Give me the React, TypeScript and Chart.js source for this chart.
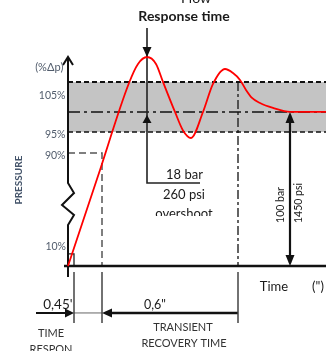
import React, { useEffect, useRef } from 'react';
import { Chart, registerables } from 'chart.js';

Chart.register(...registerables);

// ---- Schematic data (time in s, pressure in % of Δp, schematic spacing) ----
const T_RANGE = [-0.68, 2.58];
const P_RANGE = [-55.2, 172.7];

const LEVEL_105 = 119.5;
const LEVEL_100 = 100;
const LEVEL_95 = 87;
const LEVEL_90 = 73.4;
const LEVEL_10 = 7.8;

const T_10 = 0.06;
const T_90 = 0.34;
const T_PEAK = 0.79;
const T_RECOVERY = 1.7;
const T_SETTLE = 2.22;
const P_PEAK = 135.7;

// Pressure response curve
const curveT = [0, 0.3, 0.61, 0.7, 0.79, 0.88, 0.95, 1.07, 1.15, 1.23, 1.35, 1.45, 1.57, 1.65, 1.72, 1.78, 1.84, 1.92, 2.05, 2.22, 2.58];
const curveP = [0, 58.4, 118.8, 131.2, 135.7, 131.2, 119.5, 100, 88, 83.1, 100, 118.2, 127.9, 125.3, 120.8, 114.3, 109.1, 105.8, 102.6, 100, 100];

// Texts
const TITLE_TOP = 'Flow';
const TITLE = 'Response time';
const Y_UNIT = '(%Δp)';
const LEVEL_LABELS = ['105%', '95%', '90%', '10%'];
const Y_TITLE = 'PRESSURE';
const OVERSHOOT = ['18 bar', '260 psi', 'overshoot'];
const RANGE_LABELS = ['100 bar', '1450 psi'];
const X_TITLE = ['Time', '(")'];
const DURATIONS = ["0,45'", '0,6"'];
const PHASES = ['TIME', 'RESPON', 'TRANSIENT', 'RECOVERY TIME'];

const pts = (xs: number[], ys: number[]) => xs.map((x, i) => ({ x, y: ys[i] }));

export default function App() {
  const ref = useRef<HTMLCanvasElement>(null);

  useEffect(() => {
    document.body.style.margin = '0';
    const line = (data: { x: number; y: number }[], color: string, width: number, dash: number[] = [], order = 5) => ({
      data,
      borderColor: color,
      borderWidth: width,
      borderDash: dash,
      pointRadius: 0,
      fill: false,
      tension: 0,
      order,
      borderCapStyle: 'butt' as const,
    });

    const P_AX_LOW = -3.9;
    const P_BELOW = -37;
    const P_ARROWS = -30.5;

    const datasets: any[] = [
      // gray tolerance band
      {
        data: pts([0, T_RANGE[1]], [LEVEL_105, LEVEL_105]),
        borderWidth: 0,
        pointRadius: 0,
        backgroundColor: '#c4c4c4',
        fill: { value: LEVEL_95 },
        order: 20,
      },
      line(pts([0, T_RANGE[1]], [LEVEL_105, LEVEL_105]), '#111', 2, [5, 3], 10),
      line(pts([0, T_RANGE[1]], [LEVEL_95, LEVEL_95]), '#111', 1.6, [5, 3], 10),
      line(pts([0, T_RANGE[1]], [LEVEL_100, LEVEL_100]), '#111', 1.4, [12, 4, 3, 4], 10),
      line(pts([0, T_90, T_90], [LEVEL_90, LEVEL_90, 0]), '#555', 1.5, [7, 4], 10),
      line(pts([0, T_10, T_10], [LEVEL_10, LEVEL_10, 0]), '#222', 1.3, [], 10),
      line(pts([T_RECOVERY, T_RECOVERY], [LEVEL_105, 0]), '#222', 1.4, [9, 3, 3, 3], 10),
      // below-axis markers
      line(pts([T_10, T_10], [P_AX_LOW, P_BELOW]), '#444', 1.5),
      line(pts([T_90, T_90], [P_AX_LOW, P_BELOW]), '#444', 1.5),
      line(pts([T_RECOVERY, T_RECOVERY], [P_AX_LOW, P_BELOW]), '#444', 1.5),
      line(pts([-0.32, T_10 - 0.04], [P_ARROWS, P_ARROWS]), '#111', 2),
      line(pts([T_10, T_90], [P_ARROWS, P_ARROWS]), '#666', 1),
      line(pts([T_90 + 0.05, T_RECOVERY], [P_ARROWS, P_ARROWS]), '#111', 2.5),
      // axes
      line(pts([-0.04, T_RANGE[1]], [0, 0]), '#111', 2.5, [], 4),
      line(
        pts([0, 0, 0.06, -0.06, 0.06, 0, 0], [P_PEAK, 53.9, 47.4, 39.6, 33.1, 26.6, -7.1]),
        '#111', 2, [], 4
      ),
      line(pts([-0.05, 0, 0.05], [130.5, P_PEAK, 130.5]), '#111', 2, [], 4),
      // overshoot marker
      line(pts([T_PEAK, T_PEAK, 1.32], [154.5, 53.9, 53.9]), '#222', 1.6, [], 4),
      // range arrow
      line(pts([T_SETTLE, T_SETTLE], [2, LEVEL_100 - 2]), '#111', 2.2, [], 4),
      // response curve
      {
        data: pts(curveT, curveP),
        borderColor: '#ff0000',
        borderWidth: 1.8,
        pointRadius: 0,
        fill: false,
        cubicInterpolationMode: 'monotone',
        order: 0,
      },
    ];

    const arrowHeads = [
      { t: T_PEAK, p: P_PEAK, dir: 'down', len: 10, half: 4.5 },
      { t: T_PEAK, p: LEVEL_100 - 2, dir: 'up', len: 8, half: 4.5 },
      { t: T_SETTLE, p: LEVEL_100, dir: 'up', len: 11, half: 4.5 },
      { t: T_SETTLE, p: 0, dir: 'down', len: 11, half: 4.5 },
      { t: T_10, p: P_ARROWS, dir: 'right', len: 9, half: 4.5 },
      { t: T_90, p: P_ARROWS, dir: 'left', len: 10, half: 4.5 },
    ];

    const LBL = '#515c6c';
    const DARK = '#1a1a1a';
    const texts: any[] = [
      { s: TITLE_TOP, t: 1.28, p: 173.6, font: '14px Lato', color: DARK, align: 'center' },
      { s: TITLE, t: 1.16, p: 162.3, font: 'bold 14px Lato', color: DARK, align: 'center' },
      { s: Y_UNIT, t: -0.045, p: 128.6, font: '11px Lato', color: LBL, align: 'right' },
      { s: LEVEL_LABELS[0], t: -0.025, p: 110.4, font: '10.5px Lato', color: LBL, align: 'right' },
      { s: LEVEL_LABELS[1], t: -0.025, p: 85.1, font: '10.5px Lato', color: LBL, align: 'right' },
      { s: LEVEL_LABELS[2], t: -0.025, p: 71.4, font: '10.5px Lato', color: LBL, align: 'right' },
      { s: LEVEL_LABELS[3], t: -0.02, p: 12.3, font: '10.5px Lato', color: LBL, align: 'right' },
      { s: Y_TITLE, t: -0.49, p: 55.8, font: 'bold 10px Lato', color: '#44546a', align: 'center', rot: -Math.PI / 2 },
      { s: OVERSHOOT[0], t: 1.165, p: 59.1, font: '13px Lato', color: DARK, align: 'center' },
      { s: OVERSHOOT[1], t: 1.16, p: 46.1, font: '13px Lato', color: DARK, align: 'center' },
      { s: OVERSHOOT[2], t: 1.16, p: 34.0, font: '13px Lato', color: DARK, align: 'center', clipBelow: 32.5 },
      { s: RANGE_LABELS[0], t: 2.13, p: 39.6, font: '10.5px Lato', color: DARK, align: 'center', rot: -Math.PI / 2 },
      { s: RANGE_LABELS[1], t: 2.31, p: 40.9, font: '10.5px Lato', color: DARK, align: 'center', rot: -Math.PI / 2 },
      { s: X_TITLE[0], t: 2.06, p: -13.6, font: '13px Lato', color: DARK, align: 'center' },
      { s: X_TITLE[1], t: 2.5, p: -13.6, font: '13px Lato', color: DARK, align: 'center' },
      { s: DURATIONS[0], t: 0.045, p: -25.3, font: '13.5px Lato', color: DARK, align: 'right', clipLeft: -0.26 },
      { s: DURATIONS[1], t: 0.87, p: -25.3, font: '12.5px Lato', color: DARK, align: 'center' },
      { s: PHASES[0], t: -0.17, p: -43.5, font: '11px Lato', color: '#333', align: 'center' },
      { s: PHASES[1], t: -0.17, p: -53.9, font: '11px Lato', color: '#333', align: 'center' },
      { s: PHASES[2], t: 1.15, p: -39.6, font: '11px Lato', color: '#333', align: 'center' },
      { s: PHASES[3], t: 1.16, p: -50, font: '11px Lato', color: '#333', align: 'center' },
    ];

    const annotate = {
      id: 'annotate',
      afterDatasetsDraw(chart: any) {
        const { ctx, scales } = chart;
        const X = (t: number) => scales.x.getPixelForValue(t);
        const Y = (p: number) => scales.y.getPixelForValue(p);
        ctx.save();
        ctx.fillStyle = '#111';
        const dirs: Record<string, [number, number]> = { up: [0, -1], down: [0, 1], left: [-1, 0], right: [1, 0] };
        for (const a of arrowHeads) {
          const [dx, dy] = dirs[a.dir];
          const x = X(a.t), y = Y(a.p);
          const bx = x - dx * a.len, by = y - dy * a.len;
          ctx.beginPath();
          ctx.moveTo(x, y);
          ctx.lineTo(bx - dy * a.half, by + dx * a.half);
          ctx.lineTo(bx + dy * a.half, by - dx * a.half);
          ctx.closePath();
          ctx.fill();
        }
        for (const tx of texts) {
          ctx.save();
          if (tx.clipBelow !== undefined) {
            ctx.beginPath();
            ctx.rect(0, 0, chart.width, Y(tx.clipBelow));
            ctx.clip();
          }
          if (tx.clipLeft !== undefined) {
            ctx.beginPath();
            ctx.rect(X(tx.clipLeft), 0, chart.width, chart.height);
            ctx.clip();
          }
          ctx.font = tx.font;
          ctx.fillStyle = tx.color;
          ctx.textAlign = tx.align;
          ctx.textBaseline = 'middle';
          ctx.translate(X(tx.t), Y(tx.p));
          if (tx.rot) ctx.rotate(tx.rot);
          ctx.fillText(tx.s, 0, 0);
          ctx.restore();
        }
        ctx.restore();
      },
    };

    const chart = new Chart(ref.current!, {
      type: 'line',
      data: { datasets },
      options: {
        animation: false,
        responsive: false,
        devicePixelRatio: 1,
        layout: { padding: 0 },
        events: [],
        scales: {
          x: { type: 'linear', min: T_RANGE[0], max: T_RANGE[1], display: false },
          y: { type: 'linear', min: P_RANGE[0], max: P_RANGE[1], display: false },
        },
        plugins: { legend: { display: false }, tooltip: { enabled: false } },
      },
      plugins: [annotate],
    } as any);
    return () => chart.destroy();
  }, []);

  return (
    <div style={{ width: 326, height: 351, background: '#fff' }}>
      <canvas ref={ref} width={326} height={351} style={{ display: 'block' }} />
    </div>
  );
}
